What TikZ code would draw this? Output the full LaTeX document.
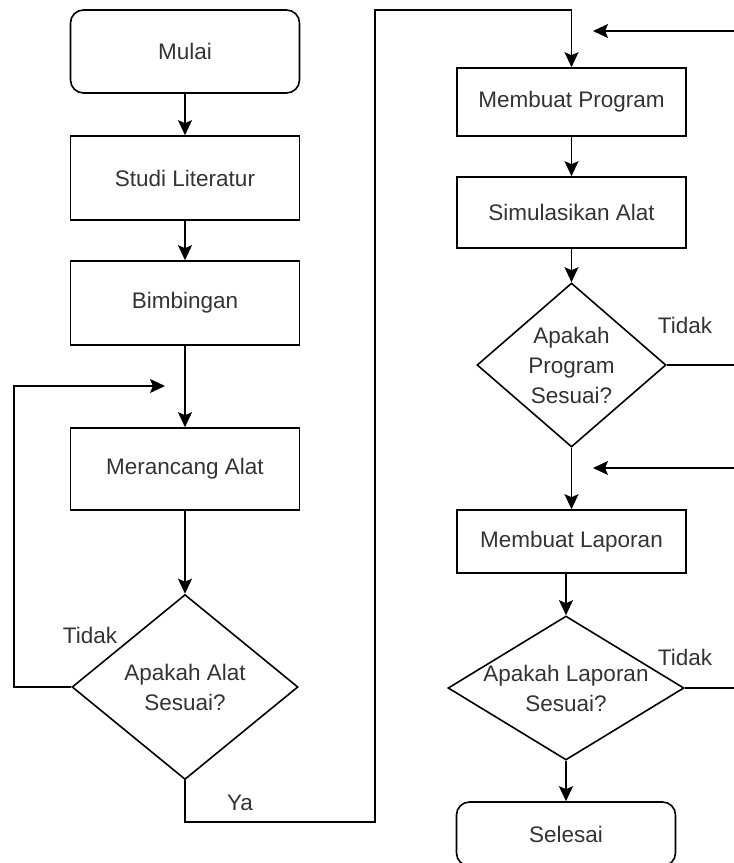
\documentclass[tikz,border=0pt]{standalone}
\usepackage{fontspec}
\setmainfont{Liberation Sans}
\usetikzlibrary{arrows.meta,shapes.geometric}

\begin{document}
\begin{tikzpicture}
	[x=1pt,y=-1pt,line width=1.6pt,
	 every node/.style={text=black!80,font=\fontsize{22.5}{30}\selectfont},
	 terminal/.style={draw,rounded corners=13pt,minimum width=229pt,inner sep=0pt},
	 process/.style={draw,rectangle,minimum width=229pt,inner sep=0pt},
	 decision/.style={draw,diamond,inner sep=0pt},
	 arr/.style={-{Stealth[length=15pt,width=14pt,inset=3pt]}}]
\useasboundingbox (0,0) rectangle (734,863);
% left column
\node[terminal,minimum height=83pt] (mulai) at (185,51.5) {Mulai};
\node[process,minimum height=84pt] (studi) at (185,178) {Studi Literatur};
\node[process,minimum height=84pt] (bimb) at (185,303) {Bimbingan};
\node[process,minimum height=82pt] (rancang) at (185,469) {Merancang Alat};
\node[decision,minimum width=226pt,minimum height=185pt,
	label={[align=center]center:Apakah Alat\\Sesuai?}] (cekalat) at (185,687) {};
% right column
\node[process,minimum height=68pt] (prog) at (571.5,102) {Membuat Program};
\node[process,minimum height=71pt] (simul) at (571.5,212.5) {Simulasikan Alat};
\node[decision,minimum width=189pt,minimum height=164pt,
	label={[align=center]center:Apakah\\Program\\Sesuai?}] (cekprog) at (571.5,365) {};
\node[process,minimum height=63pt] (lapor) at (571.5,541.5) {Membuat Laporan};
\node[decision,minimum width=236pt,minimum height=144pt,
	label={[align=center]center:Apakah Laporan\\Sesuai?}] (ceklap) at (566,688) {};
\node[terminal,minimum width=219pt,minimum height=64pt] (selesai) at (566,834) {Selesai};
% loose ends
\coordinate (kiri) at (14,386);
\coordinate (masuk) at (165,386);
\coordinate (ya) at (375,822);
\coordinate (atas) at (375,10);
\coordinate (ujung1) at (734,31);
\coordinate (tiba1) at (593,31);
\coordinate (ujung2) at (734,468);
\coordinate (tiba2) at (593,468);
% flow
\foreach \a/\b in {mulai/studi,studi/bimb,bimb/rancang,rancang/cekalat,prog/simul,simul/cekprog,cekprog/lapor}
\draw[arr] (\a.south) -- (\b.north);
\draw[arr] (ceklap.north |- lapor.south) -- (ceklap.north);
\draw[arr,line width=2pt] (ceklap.south) -- (selesai.north);
\draw[arr] (cekalat.west) -- (kiri |- cekalat.west) -- (kiri) -- (masuk);
\draw[arr] (cekalat.south) -- (cekalat.south |- ya) -- (ya) -- (atas) -- (prog.north |- atas) -- (prog.north);
\draw[arr] (ujung1) -- (tiba1);
\draw[arr] (ujung2) -- (tiba2);
\draw (cekprog.east) -- (cekprog.east -| ujung1);
\draw (ceklap.east) -- (ceklap.east -| ujung1);
% labels
\node (tidak1) at (90,635) {Tidak};
\node (ya1) at (240,803) {Ya};
\node (tidak2) at (685,325) {Tidak};
\node (tidak3) at (685,657) {Tidak};
\end{tikzpicture}
\end{document}
